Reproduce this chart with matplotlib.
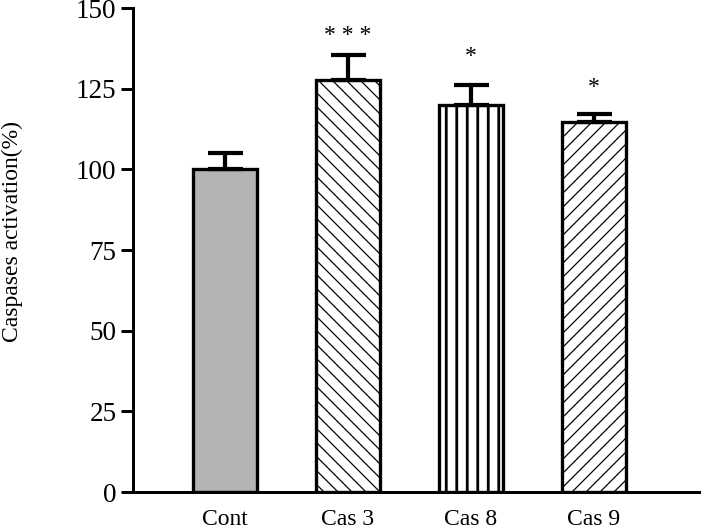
import matplotlib
matplotlib.use("Agg")
import matplotlib.pyplot as plt

categories = ["Cont", "Cas 3", "Cas 8", "Cas 9"]
values = [100.0, 127.8, 119.8, 114.8]
errors = [5.0, 7.6, 6.4, 2.2]
stars = ["* * *", "*", "*"]
star_values = [141.5, 135.0, 125.5]
star_index = [1, 2, 3]
yticks = [0, 25, 50, 75, 100, 125, 150]

DPI = 126
plt.rcParams['font.family'] = ['Liberation Serif', 'DejaVu Serif']

fig = plt.figure(figsize=(701 / DPI, 531 / DPI), dpi=DPI)
ax = fig.add_axes([133 / 701, 1 - 492 / 531, 1 - 133 / 701, (492 - 8) / 531])

fills = ["#b3b3b3", "white", "white", "white"]
hatches = [None, "\\\\\\", "||", "///"]
hatch_lw = [1.0, 0.7, 1.6, 0.7]

x = list(range(len(categories)))
for i in x:
    with plt.rc_context({'hatch.linewidth': hatch_lw[i]}):
        b = ax.bar(i, values[i], width=0.52, color=fills[i], edgecolor="black",
                   linewidth=1.9, hatch=hatches[i], zorder=2)
        for p in b:
            if hasattr(p, "set_hatch_linewidth"):
                p.set_hatch_linewidth(hatch_lw[i])

ax.errorbar(x, values, yerr=[[0] * len(errors), errors], fmt="none",
            ecolor="black", elinewidth=2.4, capsize=10, capthick=2.4, zorder=3)

for s, v, i in zip(stars, star_values, star_index):
    ax.text(i, v, s, ha="center", va="center", fontsize=13.5)

ax.set_xlim(-0.748, 3.87)
ax.set_ylim(0, 150)
ax.set_yticks(yticks)
ax.set_yticklabels([str(t) for t in yticks], fontsize=15.5)
ax.set_xticks(x)
ax.set_xticklabels(categories, fontsize=13.5)

for side in ["top", "right"]:
    ax.spines[side].set_visible(False)
for side in ["left", "bottom"]:
    ax.spines[side].set_linewidth(1.7)
ax.tick_params(axis="y", length=6.9, width=1.7, pad=2.5)
ax.tick_params(axis="x", length=0, pad=9.5)

fig.text(12 / 701, 1 - 232 / 531, "Caspases activation(%)", rotation=90,
         ha="center", va="center", fontsize=13.5)

fig.savefig("out.png", dpi=DPI)
